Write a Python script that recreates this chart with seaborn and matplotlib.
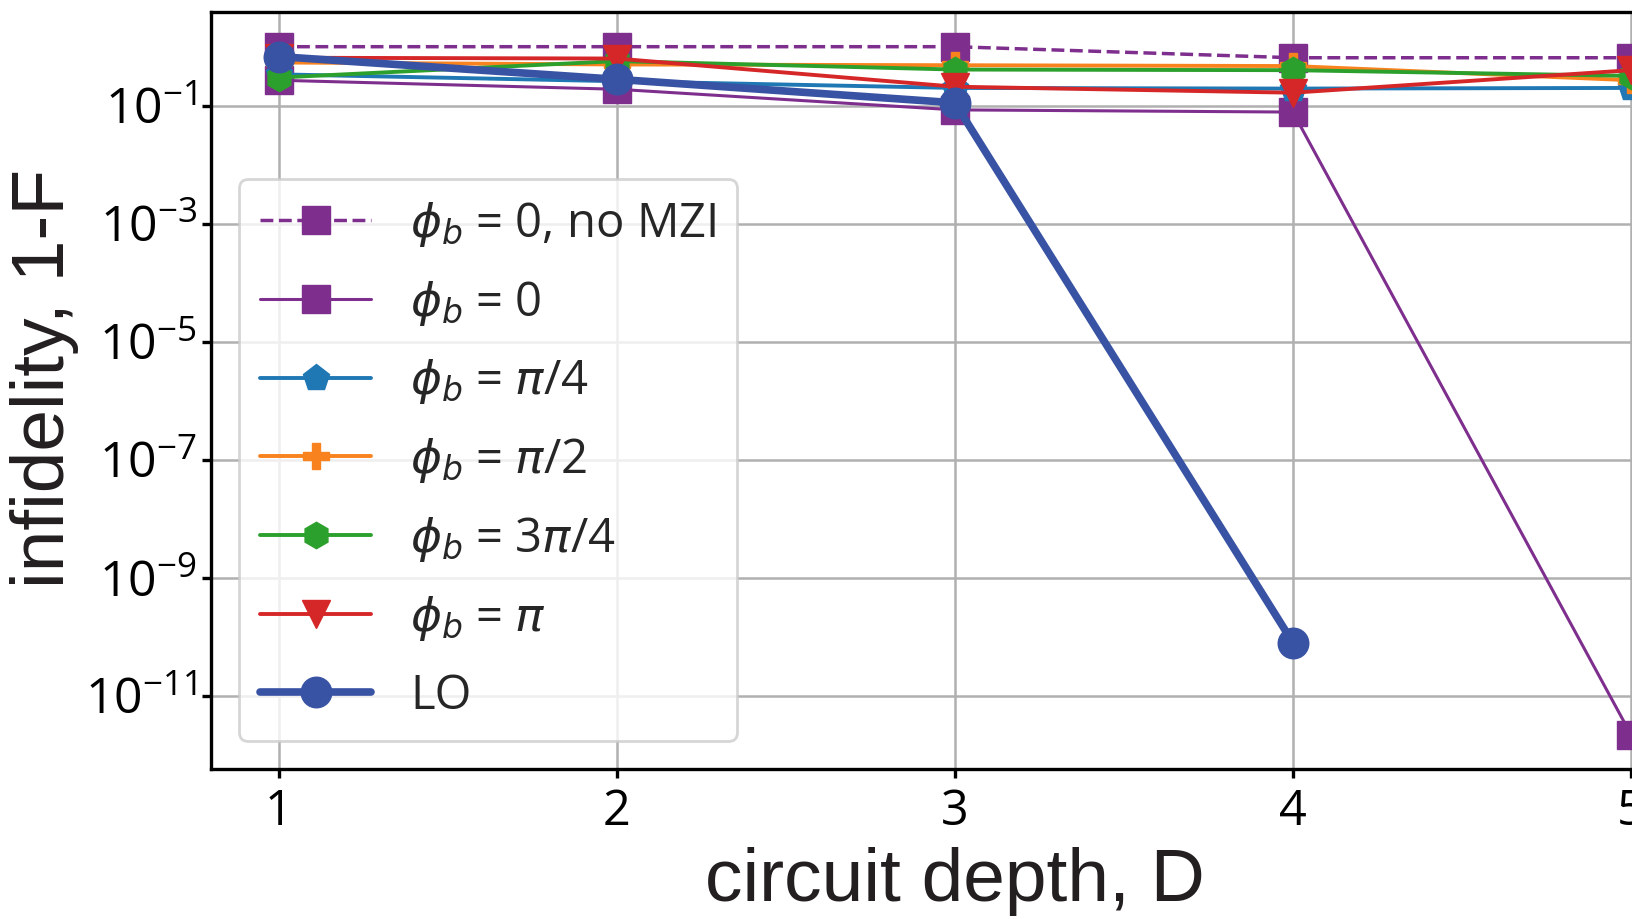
import matplotlib
matplotlib.use("Agg")
import matplotlib.pyplot as plt
import seaborn as sns
import pandas as pd
from matplotlib.ticker import NullLocator, FixedLocator

# ---------------- data ----------------
depth = [1, 2, 3, 4, 5]
depth_lo = [1, 2, 3, 4]
infid_no_mzi = [1.0, 1.0, 1.0, 0.65, 0.65]
infid_phi0 = [0.27, 0.19, 0.085, 0.078, 2.2e-12]
infid_pi4 = [0.34, 0.26, 0.20, 0.195, 0.20]
infid_pi2 = [0.54, 0.50, 0.485, 0.47, 0.27]
infid_3pi4 = [0.30, 0.57, 0.41, 0.40, 0.32]
infid_pi = [0.65, 0.63, 0.21, 0.166, 0.40]
infid_lo = [0.68, 0.28, 0.112, 8e-11]

labels = [r"$\phi_b$ = 0, no MZI", r"$\phi_b$ = 0", r"$\phi_b$ = $\pi$/4",
          r"$\phi_b$ = $\pi$/2", r"$\phi_b$ = 3$\pi$/4", r"$\phi_b$ = $\pi$", "LO"]
x_ticks = [1, 2, 3, 4, 5]
y_ticks = [1e-11, 1e-9, 1e-7, 1e-5, 1e-3, 1e-1]
x_label = "circuit depth, D"
y_label = "infidelity, 1-F"

series = [
    (depth, infid_no_mzi, labels[0]),
    (depth, infid_phi0, labels[1]),
    (depth, infid_pi4, labels[2]),
    (depth, infid_pi2, labels[3]),
    (depth, infid_3pi4, labels[4]),
    (depth, infid_pi, labels[5]),
    (depth_lo, infid_lo, labels[6]),
]

# ---------------- styles ----------------
styles = [
    dict(color="#7E2F8E", marker="s", ls="--", lw=2.5, ms=20),
    dict(color="#7E2F8E", marker="s", ls="-", lw=2.2, ms=20),
    dict(color="#1f77b4", marker="p", ls="-", lw=2.8, ms=20),
    dict(color="#f8821e", marker="P", ls="-", lw=2.8, ms=19),
    dict(color="#2ca02c", marker="h", ls="-", lw=2.8, ms=19),
    dict(color="#d62728", marker="v", ls="-", lw=2.8, ms=20),
    dict(color="#3953A4", marker="o", ls="-", lw=5.5, ms=22),
]

sns.set_theme(style="whitegrid", rc={
    "axes.edgecolor": "black",
    "axes.linewidth": 2.4,
    "grid.color": "#b0b0b0",
    "grid.linewidth": 1.8,
    "xtick.bottom": True,
    "ytick.left": True,
    "xtick.major.size": 6.5,
    "ytick.major.size": 6.5,
    "xtick.major.width": 2.4,
    "ytick.major.width": 2.4,
    "xtick.color": "black",
    "ytick.color": "black",
})
plt.rcParams["font.family"] = ["Open Sans", "DejaVu Sans"]
plt.rcParams["mathtext.fontset"] = "dejavusans"
plt.rcParams["axes.unicode_minus"] = True

fig = plt.figure(figsize=(16.32, 9.19), dpi=100)
ax = fig.add_axes([0.12929, 0.16322, 0.91152, 0.82340])

for (xs, ys, lab), st in zip(series, styles):
    df = pd.DataFrame({"depth": xs, "infidelity": ys})
    sns.lineplot(data=df, x="depth", y="infidelity", ax=ax, color=st["color"],
                 marker=st["marker"], markersize=st["ms"], linewidth=st["lw"],
                 linestyle=st["ls"], markeredgecolor=st["color"],
                 markeredgewidth=1.0, errorbar=None, label=lab)

ax.set_yscale("log")
ax.yaxis.set_major_locator(FixedLocator(y_ticks))
ax.yaxis.set_minor_locator(NullLocator())
ax.set_xticks(x_ticks)
ax.set_xticklabels([str(v) for v in x_ticks])
ax.tick_params(axis="x", labelsize=35, pad=7)
ax.tick_params(axis="y", labelsize=36, pad=3.5)
ax.grid(True, which="major")

ax.set_xlabel(x_label, fontsize=54, family="Liberation Sans", labelpad=7, color="#231f20")
ax.set_ylabel(y_label, fontsize=54, family="Liberation Sans", color="#231f20")
ax.yaxis.set_label_coords(-0.0887, 0.516)

for sp in ax.spines.values():
    sp.set_color("black")
    sp.set_linewidth(2.4)

leg = ax.legend(loc="lower left", bbox_to_anchor=(0.0188, 0.037), borderaxespad=0,
                fontsize=34, handlelength=2.35, handletextpad=0.82, labelspacing=0.63,
                borderpad=0.45, framealpha=0.8, edgecolor="0.8", fancybox=True)
leg.get_frame().set_linewidth(2.0)

fig.savefig("out.png", dpi=100)
